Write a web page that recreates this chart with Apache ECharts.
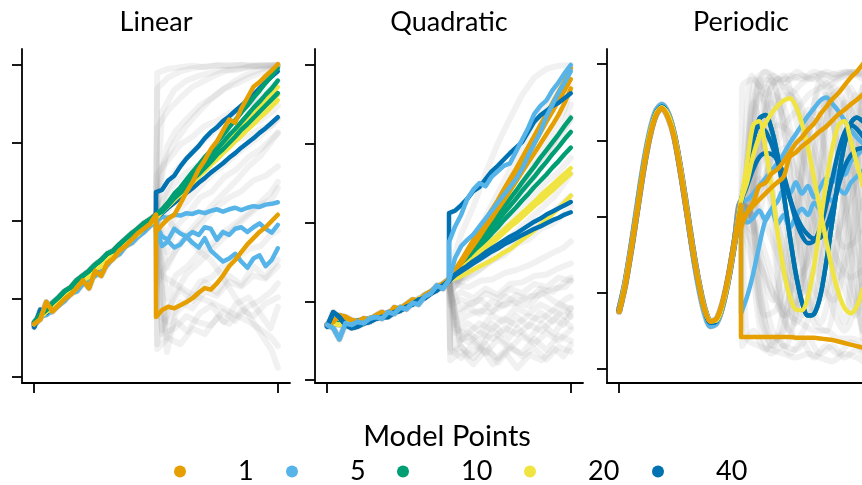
<!DOCTYPE html>
<html>
<head>
<meta charset="utf-8">
<script src="https://cdn.jsdelivr.net/npm/echarts@6/dist/echarts.min.js"></script>
<style>
  html, body { margin: 0; padding: 0; background: #ffffff; }
  #chart { width: 862px; height: 485px; }
</style>
</head>
<body>
<div id="chart"></div>
<script>
// ---- x grids -------------------------------------------------------------
const xPre   = [0, 2.5, 5, 7.5, 10, 12.5, 15, 17.5, 20, 22.5, 25, 27.5, 30, 32.5, 35, 37.5, 40, 42.5, 45, 47.5, 50];
const xPost  = [50, 52.5, 55, 57.5, 60, 62.5, 65, 67.5, 70, 72.5, 75, 77.5, 80, 82.5, 85, 87.5, 90, 92.5, 95, 97.5, 100];
const xGrayA = [50.5, 55, 60, 65, 70, 75, 80, 85, 90, 95, 100];
const xGrayB = [52.5, 57.5, 62.5, 67.5, 72.5, 77.5, 82.5, 87.5, 92.5, 97.5, 100];
const xGrayC = [54.5, 58, 63, 68, 73, 78, 83, 88, 93, 97, 100];

const modelPoints = ['1', '5', '10', '20', '40'];
const panelTitles = ['Linear', 'Quadratic', 'Periodic'];
const tickValuesY = [0, 1, 2, 3, 4];
const tickValuesX = [0, 100];

// ---- Linear ---------------------------------------------------------------
const linPre1  = [0.68, 0.74, 0.96, 0.84, 0.92, 1.00, 1.06, 1.14, 1.24, 1.14, 1.36, 1.30, 1.46, 1.52, 1.62, 1.68, 1.76, 1.84, 1.90, 1.96, 2.08];
const linPre5  = [0.66, 0.78, 0.80, 0.86, 0.92, 0.98, 1.08, 1.10, 1.20, 1.26, 1.30, 1.40, 1.44, 1.54, 1.58, 1.68, 1.72, 1.80, 1.86, 1.94, 2.00];
const linPre10 = [0.70, 0.80, 0.86, 0.95, 1.02, 1.10, 1.15, 1.24, 1.30, 1.36, 1.44, 1.50, 1.58, 1.62, 1.70, 1.77, 1.84, 1.90, 1.97, 2.02, 2.08];
const linPre20 = [0.68, 0.77, 0.84, 0.88, 0.97, 1.02, 1.11, 1.15, 1.24, 1.29, 1.38, 1.42, 1.51, 1.56, 1.65, 1.69, 1.78, 1.83, 1.92, 1.96, 2.04];
const linPre40 = [0.64, 0.86, 0.82, 0.90, 0.96, 1.04, 1.08, 1.17, 1.22, 1.31, 1.36, 1.44, 1.49, 1.58, 1.63, 1.70, 1.78, 1.85, 1.90, 1.98, 2.04];

const linPost1 = [
  [1.86, 1.95, 2.03, 2.08, 2.22, 2.37, 2.50, 2.66, 2.78, 2.92, 3.02, 3.16, 3.30, 3.26, 3.44, 3.58, 3.72, 3.78, 3.86, 3.93, 4.01],
  [0.77, 0.86, 0.90, 0.88, 0.92, 0.96, 1.01, 1.08, 1.14, 1.12, 1.20, 1.30, 1.42, 1.50, 1.60, 1.70, 1.78, 1.86, 1.92, 2.00, 2.08]
];
const linPost5 = [
  [2.00, 2.05, 2.04, 2.08, 2.07, 2.10, 2.09, 2.12, 2.10, 2.13, 2.15, 2.12, 2.15, 2.17, 2.14, 2.17, 2.19, 2.18, 2.21, 2.22, 2.24],
  [1.95, 1.80, 1.76, 1.90, 1.84, 1.80, 1.86, 1.82, 1.92, 1.90, 1.76, 1.86, 1.82, 1.90, 1.92, 1.86, 1.92, 1.97, 1.90, 1.85, 1.95],
  [1.90, 1.68, 1.74, 1.66, 1.70, 1.80, 1.72, 1.66, 1.78, 1.62, 1.55, 1.48, 1.52, 1.58, 1.48, 1.40, 1.52, 1.56, 1.42, 1.50, 1.65]
];
const linPost10 = [
  [2.08, 2.15, 2.24, 2.35, 2.43, 2.53, 2.63, 2.72, 2.82, 2.90, 3.01, 3.10, 3.20, 3.29, 3.39, 3.48, 3.58, 3.67, 3.77, 3.86, 3.96],
  [2.08, 2.13, 2.23, 2.31, 2.40, 2.48, 2.57, 2.66, 2.74, 2.83, 2.92, 3.01, 3.10, 3.18, 3.27, 3.36, 3.45, 3.53, 3.62, 3.70, 3.80],
  [2.08, 2.12, 2.20, 2.29, 2.36, 2.44, 2.53, 2.60, 2.68, 2.76, 2.85, 2.92, 3.00, 3.08, 3.17, 3.24, 3.32, 3.40, 3.48, 3.56, 3.64]
];
const linPost20 = [
  [2.04, 2.13, 2.22, 2.30, 2.38, 2.47, 2.55, 2.63, 2.72, 2.80, 2.88, 2.97, 3.05, 3.13, 3.22, 3.30, 3.38, 3.47, 3.55, 3.63, 3.72],
  [2.04, 2.12, 2.19, 2.27, 2.34, 2.42, 2.49, 2.57, 2.64, 2.72, 2.79, 2.87, 2.94, 3.02, 3.09, 3.17, 3.24, 3.32, 3.39, 3.47, 3.55],
  [2.04, 2.12, 2.20, 2.28, 2.36, 2.44, 2.52, 2.60, 2.68, 2.76, 2.84, 2.92, 2.99, 3.07, 3.15, 3.23, 3.31, 3.39, 3.47, 3.55, 3.62]
];
const linPost40 = [
  [2.37, 2.40, 2.52, 2.58, 2.70, 2.80, 2.88, 2.96, 3.06, 3.14, 3.20, 3.28, 3.34, 3.41, 3.48, 3.55, 3.62, 3.70, 3.78, 3.85, 3.92],
  [2.04, 2.10, 2.17, 2.23, 2.30, 2.36, 2.42, 2.49, 2.55, 2.62, 2.68, 2.74, 2.81, 2.87, 2.94, 3.00, 3.06, 3.13, 3.19, 3.26, 3.33]
];
const linGray = [
  [3.90, 3.95, 3.97, 3.99, 3.97, 4.00, 3.98, 4.00, 3.99, 4.00, 3.99],
  [3.40, 3.68, 3.80, 3.86, 3.90, 3.94, 3.93, 3.97, 3.98, 3.99, 4.00],
  [2.95, 3.15, 3.32, 3.48, 3.58, 3.70, 3.76, 3.84, 3.90, 3.94, 3.97],
  [2.60, 2.78, 2.98, 3.08, 3.22, 3.28, 3.38, 3.44, 3.52, 3.56, 3.62],
  [2.25, 2.48, 2.62, 2.72, 2.86, 2.92, 3.04, 3.08, 3.18, 3.22, 3.30],
  [1.60, 1.92, 2.08, 2.30, 2.38, 2.56, 2.66, 2.82, 2.92, 3.04, 3.12],
  [1.20, 1.48, 1.72, 1.86, 2.02, 2.18, 2.30, 2.38, 2.52, 2.58, 2.70],
  [0.60, 1.05, 1.32, 1.46, 1.62, 1.78, 1.92, 2.06, 2.20, 2.28, 2.42],
  [0.32, 0.82, 0.98, 1.22, 1.28, 1.44, 1.52, 1.64, 1.68, 1.82, 1.88],
  [0.42, 0.88, 1.12, 0.98, 1.22, 1.08, 1.30, 1.18, 1.42, 1.28, 1.50],
  [2.10, 1.92, 1.80, 1.62, 1.50, 1.28, 1.02, 0.82, 0.58, 0.34, 0.12],
  [0.50, 0.72, 0.58, 0.82, 0.92, 0.70, 0.94, 1.02, 0.80, 0.62, 0.90],
  [3.20, 3.42, 3.58, 3.72, 3.80, 3.88, 3.94, 3.96, 3.99, 3.98, 4.00],
  [2.00, 2.30, 2.48, 2.70, 2.78, 2.98, 3.08, 3.22, 3.28, 3.40, 3.48],
  [1.00, 1.30, 1.42, 1.60, 1.70, 1.86, 1.98, 2.10, 2.24, 2.36, 2.50],
  [0.80, 0.70, 0.96, 0.88, 1.10, 1.04, 1.22, 1.16, 1.30, 1.26, 1.42],
  [0.55, 0.62, 0.78, 0.70, 0.66, 0.84, 0.72, 0.90, 0.98, 1.10, 1.20],
  [1.40, 1.62, 1.84, 2.02, 2.20, 2.36, 2.52, 2.70, 2.84, 3.00, 3.14],
  [3.70, 3.84, 3.92, 3.96, 3.98, 3.99, 4.00, 4.00, 3.99, 4.00, 4.00],
  [2.70, 3.00, 3.22, 3.40, 3.56, 3.68, 3.80, 3.88, 3.94, 3.97, 4.00],
  [1.80, 2.10, 2.26, 2.44, 2.60, 2.72, 2.86, 2.98, 3.10, 3.22, 3.32],
  [0.36, 0.50, 0.42, 0.62, 0.55, 0.76, 0.68, 0.86, 0.78, 0.94, 1.02],
  [1.30, 1.20, 1.10, 1.02, 0.96, 0.88, 0.80, 0.72, 0.62, 0.50, 0.40],
  [2.40, 2.64, 2.82, 2.98, 3.12, 3.26, 3.38, 3.50, 3.60, 3.70, 3.80]
];

// ---- Quadratic ------------------------------------------------------------
const quadPre1  = [0.70, 0.74, 0.82, 0.80, 0.76, 0.74, 0.78, 0.76, 0.82, 0.86, 0.82, 0.92, 0.90, 0.96, 1.02, 1.00, 1.08, 1.12, 1.18, 1.22, 1.28];
const quadPre5  = [0.70, 0.66, 0.52, 0.72, 0.70, 0.74, 0.72, 0.78, 0.80, 0.78, 0.86, 0.84, 0.92, 0.90, 0.98, 0.96, 1.06, 1.10, 1.20, 1.16, 1.27];
const quadPre10 = [0.69, 0.71, 0.72, 0.72, 0.73, 0.75, 0.76, 0.78, 0.80, 0.82, 0.85, 0.88, 0.91, 0.94, 0.98, 1.02, 1.06, 1.11, 1.16, 1.21, 1.27];
const quadPre20 = [0.70, 0.72, 0.70, 0.72, 0.73, 0.74, 0.76, 0.78, 0.80, 0.83, 0.85, 0.88, 0.92, 0.95, 0.99, 1.03, 1.07, 1.12, 1.17, 1.22, 1.27];
const quadPre40 = [0.68, 0.86, 0.80, 0.70, 0.66, 0.68, 0.72, 0.74, 0.78, 0.80, 0.80, 0.86, 0.88, 0.93, 0.96, 1.02, 1.04, 1.10, 1.14, 1.20, 1.26];

const quadPost1 = [
  [1.28, 1.40, 1.52, 1.65, 1.78, 1.90, 2.02, 2.16, 2.28, 2.42, 2.55, 2.68, 2.82, 2.96, 3.10, 3.24, 3.38, 3.52, 3.66, 3.80, 3.96],
  [1.28, 1.39, 1.50, 1.62, 1.74, 1.86, 1.98, 2.10, 2.22, 2.35, 2.48, 2.60, 2.74, 2.87, 3.00, 3.14, 3.28, 3.41, 3.55, 3.68, 3.82],
  [1.28, 1.38, 1.48, 1.60, 1.71, 1.82, 1.94, 2.05, 2.17, 2.28, 2.40, 2.52, 2.64, 2.76, 2.88, 3.00, 3.12, 3.24, 3.37, 3.52, 3.70]
];
const quadPost5 = [
  [1.75, 1.95, 2.10, 2.30, 2.42, 2.50, 2.46, 2.58, 2.65, 2.72, 2.75, 2.90, 3.05, 3.20, 3.38, 3.48, 3.55, 3.68, 3.78, 3.90, 4.00],
  [1.27, 1.55, 1.70, 1.78, 1.85, 1.95, 2.05, 2.15, 2.25, 2.35, 2.45, 2.55, 2.68, 2.85, 3.00, 3.15, 3.35, 3.50, 3.65, 3.78, 3.92]
];
const quadPost10 = [
  [1.27, 1.37, 1.48, 1.58, 1.68, 1.79, 1.89, 1.99, 2.09, 2.20, 2.30, 2.40, 2.51, 2.61, 2.71, 2.82, 2.92, 3.02, 3.12, 3.23, 3.33],
  [1.27, 1.36, 1.46, 1.55, 1.65, 1.74, 1.83, 1.93, 2.02, 2.12, 2.21, 2.30, 2.40, 2.49, 2.58, 2.68, 2.77, 2.87, 2.96, 3.06, 3.15],
  [1.27, 1.35, 1.44, 1.52, 1.61, 1.69, 1.77, 1.86, 1.94, 2.03, 2.11, 2.19, 2.28, 2.36, 2.45, 2.53, 2.61, 2.70, 2.78, 2.87, 2.95]
];
const quadPost20 = [
  [1.27, 1.34, 1.41, 1.48, 1.55, 1.63, 1.70, 1.77, 1.84, 1.91, 1.98, 2.05, 2.12, 2.19, 2.26, 2.34, 2.41, 2.48, 2.55, 2.62, 2.69],
  [1.27, 1.33, 1.40, 1.46, 1.53, 1.60, 1.67, 1.73, 1.80, 1.87, 1.94, 2.00, 2.07, 2.14, 2.21, 2.27, 2.34, 2.41, 2.48, 2.55, 2.62],
  [1.27, 1.29, 1.32, 1.36, 1.40, 1.44, 1.48, 1.52, 1.57, 1.62, 1.66, 1.72, 1.78, 1.84, 1.90, 1.97, 2.04, 2.11, 2.18, 2.26, 2.34]
];
const quadPost40 = [
  [2.12, 2.15, 2.22, 2.30, 2.40, 2.45, 2.55, 2.65, 2.72, 2.80, 2.88, 2.95, 3.02, 3.15, 3.28, 3.36, 3.42, 3.48, 3.52, 3.58, 3.64],
  [1.26, 1.34, 1.40, 1.45, 1.51, 1.56, 1.62, 1.67, 1.72, 1.77, 1.82, 1.86, 1.91, 1.96, 2.01, 2.05, 2.10, 2.14, 2.18, 2.22, 2.26],
  [1.26, 1.33, 1.38, 1.43, 1.48, 1.53, 1.58, 1.63, 1.67, 1.72, 1.76, 1.80, 1.84, 1.88, 1.92, 1.95, 1.99, 2.03, 2.06, 2.10, 2.13]
];
const quadGray = [
  [1.40, 1.85, 2.20, 2.62, 3.00, 3.32, 3.62, 3.84, 3.95, 3.99, 4.00],
  [1.35, 1.62, 1.92, 2.22, 2.52, 2.82, 3.12, 3.40, 3.66, 3.86, 3.96],
  [1.30, 1.52, 1.70, 1.92, 2.12, 2.40, 2.62, 2.82, 3.02, 3.24, 3.50],
  [1.30, 1.44, 1.62, 1.74, 1.92, 2.04, 2.22, 2.34, 2.52, 2.64, 2.82],
  [1.25, 1.32, 1.40, 1.52, 1.58, 1.72, 1.78, 1.92, 1.98, 2.12, 2.20],
  [1.20, 1.18, 1.26, 1.28, 1.36, 1.40, 1.46, 1.54, 1.62, 1.68, 1.76],
  [1.00, 1.12, 1.04, 1.16, 1.08, 1.22, 1.24, 1.32, 1.34, 1.42, 1.48],
  [0.70, 0.82, 0.88, 0.86, 0.96, 0.98, 1.06, 1.08, 1.16, 1.18, 1.26],
  [0.50, 0.56, 0.42, 0.62, 0.48, 0.66, 0.52, 0.72, 0.58, 0.76, 0.68],
  [0.35, 0.42, 0.28, 0.46, 0.22, 0.40, 0.34, 0.52, 0.38, 0.56, 0.50],
  [0.60, 0.72, 0.62, 0.82, 0.74, 0.92, 0.84, 0.96, 0.88, 1.02, 1.06],
  [0.90, 0.96, 1.02, 0.88, 1.06, 0.98, 0.94, 1.12, 1.00, 0.94, 0.90],
  [1.10, 1.32, 1.52, 1.76, 2.00, 2.26, 2.44, 2.72, 2.90, 3.12, 3.30],
  [0.40, 0.62, 0.48, 0.72, 0.58, 0.82, 0.68, 0.86, 0.74, 0.92, 0.80],
  [0.45, 0.30, 0.42, 0.20, 0.35, 0.15, 0.32, 0.25, 0.40, 0.30, 0.45],
  [1.15, 1.24, 1.34, 1.46, 1.56, 1.68, 1.80, 1.94, 2.06, 2.20, 2.34],
  [0.80, 0.92, 0.84, 1.00, 0.94, 1.08, 1.02, 1.16, 1.12, 1.24, 1.30],
  [0.55, 0.48, 0.60, 0.52, 0.66, 0.58, 0.70, 0.62, 0.78, 0.70, 0.84],
  [0.25, 0.36, 0.20, 0.38, 0.28, 0.44, 0.30, 0.40, 0.26, 0.42, 0.36],
  [1.20, 1.40, 1.62, 1.86, 2.10, 2.36, 2.62, 2.88, 3.16, 3.44, 3.72],
  [1.28, 1.46, 1.66, 1.86, 2.06, 2.28, 2.48, 2.70, 2.92, 3.14, 3.34],
  [0.95, 1.02, 0.96, 1.10, 1.04, 1.16, 1.10, 1.22, 1.18, 1.30, 1.26],
  [0.65, 0.58, 0.72, 0.64, 0.78, 0.70, 0.82, 0.76, 0.88, 0.80, 0.92],
  [1.25, 1.36, 1.50, 1.62, 1.76, 1.90, 2.04, 2.18, 2.32, 2.48, 2.62],
  [0.40, 0.28, 0.46, 0.34, 0.52, 0.40, 0.56, 0.46, 0.60, 0.50, 0.64]
];

// ---- Periodic -------------------------------------------------------------
const perPre1  = [0.75, 1.10, 1.58, 2.10, 2.62, 3.04, 3.32, 3.42, 3.30, 3.05, 2.62, 2.12, 1.60, 1.14, 0.78, 0.62, 0.66, 0.88, 1.24, 1.70, 2.15];
const perPre5  = [0.78, 1.14, 1.62, 2.16, 2.68, 3.10, 3.38, 3.47, 3.36, 3.08, 2.64, 2.12, 1.58, 1.10, 0.74, 0.56, 0.60, 0.84, 1.22, 1.70, 2.18];
const perPre10 = [0.78, 1.12, 1.58, 2.10, 2.62, 3.05, 3.33, 3.44, 3.35, 3.08, 2.65, 2.15, 1.62, 1.16, 0.80, 0.62, 0.63, 0.84, 1.21, 1.69, 2.19];
const perPre20 = [0.76, 1.13, 1.60, 2.12, 2.64, 3.07, 3.34, 3.43, 3.34, 3.08, 2.66, 2.15, 1.62, 1.16, 0.80, 0.63, 0.64, 0.85, 1.21, 1.69, 2.20];
const perPre40 = [0.77, 1.12, 1.60, 2.12, 2.64, 3.06, 3.35, 3.44, 3.34, 3.07, 2.64, 2.14, 1.61, 1.15, 0.79, 0.61, 0.63, 0.85, 1.22, 1.70, 2.19];

const perPost1 = [
  [1.85, 2.06, 2.18, 2.40, 2.44, 2.56, 2.62, 2.72, 2.84, 2.96, 3.04, 3.14, 3.22, 3.34, 3.44, 3.54, 3.62, 3.72, 3.82, 3.90, 4.00],
  [1.95, 2.05, 2.14, 2.22, 2.30, 2.38, 2.45, 2.52, 2.78, 2.84, 2.92, 2.98, 3.05, 3.12, 3.18, 3.26, 3.34, 3.40, 3.47, 3.53, 3.60],
  [0.42, 0.42, 0.42, 0.42, 0.42, 0.42, 0.42, 0.42, 0.42, 0.41, 0.41, 0.41, 0.41, 0.40, 0.39, 0.38, 0.36, 0.34, 0.32, 0.30, 0.28]
];
const perPost5 = [
  [2.18, 2.22, 2.30, 2.40, 2.50, 2.60, 2.70, 2.82, 2.96, 3.08, 3.20, 3.32, 3.42, 3.52, 3.56, 3.48, 3.38, 3.26, 3.14, 3.04, 2.96],
  [2.18, 1.92, 1.98, 2.08, 1.95, 2.10, 2.20, 2.35, 2.30, 2.45, 2.30, 2.40, 2.25, 2.38, 2.50, 2.45, 2.60, 2.55, 2.72, 2.80, 2.88],
  [0.73, 0.95, 1.25, 1.62, 1.95, 2.08, 1.90, 2.02, 1.85, 2.00, 2.10, 2.02, 2.18, 2.10, 2.26, 2.20, 2.36, 2.30, 2.44, 2.52, 2.60]
];
const perPost10 = [
  [2.19, 2.55, 3.00, 3.28, 3.33, 3.15, 2.80, 2.30, 1.75, 1.25, 0.88, 0.70, 0.72, 0.95, 1.40, 1.95, 2.50, 2.95, 3.22, 3.30, 3.25]
];
const perPost20 = [
  [2.20, 2.70, 3.20, 3.25, 2.90, 2.40, 1.80, 1.30, 0.95, 0.78, 0.77, 0.95, 1.35, 1.90, 2.45, 2.90, 3.20, 3.25, 3.00, 2.70, 2.40],
  [2.20, 2.45, 2.80, 3.05, 3.22, 3.35, 3.45, 3.52, 3.55, 3.45, 3.22, 2.90, 2.50, 2.08, 1.68, 1.30, 1.00, 0.80, 0.73, 0.82, 1.05]
];
const perPost40 = [
  [2.19, 2.55, 3.00, 3.28, 3.33, 3.15, 2.80, 2.30, 1.75, 1.25, 0.88, 0.70, 0.72, 0.95, 1.40, 1.95, 2.50, 2.95, 3.22, 3.30, 3.25],
  [2.19, 2.62, 3.00, 3.18, 3.12, 2.95, 2.72, 2.48, 2.24, 2.02, 1.86, 1.76, 1.71, 1.72, 1.86, 2.10, 2.40, 2.65, 2.80, 2.88, 2.90],
  [2.19, 2.40, 2.62, 2.78, 2.83, 2.82, 2.74, 2.55, 2.25, 1.95, 1.75, 1.65, 1.68, 1.85, 2.15, 2.50, 2.85, 3.10, 3.20, 3.15, 3.05]
];
const perGray = [
  [2.00, 3.50, 3.90, 3.60, 2.60, 1.40, 0.60, 0.50, 1.30, 2.50, 3.50],
  [2.00, 3.00, 3.70, 3.85, 3.30, 2.40, 1.50, 0.80, 0.50, 0.90, 1.80],
  [2.00, 1.20, 0.50, 0.30, 0.80, 1.80, 2.90, 3.60, 3.70, 3.10, 2.10],
  [2.00, 2.60, 3.00, 3.20, 3.10, 2.80, 2.30, 1.80, 1.40, 1.20, 1.30],
  [2.00, 3.60, 3.30, 1.80, 0.60, 0.90, 2.40, 3.60, 3.40, 2.00, 0.80],
  [2.00, 1.00, 0.30, 0.60, 1.80, 3.00, 3.80, 3.60, 2.60, 1.30, 0.40],
  [3.70, 3.80, 3.60, 3.80, 3.80, 3.85, 3.80, 3.90, 3.85, 3.90, 3.85],
  [0.40, 0.30, 0.25, 0.20, 0.15, 0.20, 0.15, 0.10, 0.20, 0.15, 0.10],
  [2.00, 2.40, 2.80, 3.20, 3.40, 3.60, 3.70, 3.80, 3.85, 3.90, 3.90],
  [2.00, 1.60, 1.20, 0.90, 0.70, 0.60, 0.50, 0.50, 0.40, 0.40, 0.35],
  [2.00, 3.20, 3.80, 3.20, 2.00, 1.00, 0.60, 1.20, 2.40, 3.40, 3.70],
  [2.00, 1.40, 0.90, 1.50, 2.50, 3.30, 3.10, 2.20, 1.30, 0.80, 1.10],
  [2.00, 2.20, 1.90, 1.50, 1.10, 1.00, 1.30, 1.90, 2.50, 3.00, 3.20],
  [2.00, 3.80, 2.60, 0.70, 1.40, 3.40, 3.30, 1.20, 0.60, 2.50, 3.70],
  [3.85, 3.70, 3.85, 3.75, 3.90, 3.80, 3.88, 3.82, 3.90, 3.86, 3.90],
  [0.30, 0.50, 0.25, 0.40, 0.20, 0.35, 0.15, 0.30, 0.20, 0.35, 0.25],
  [2.00, 2.90, 3.50, 3.30, 2.40, 1.40, 0.90, 1.30, 2.30, 3.20, 3.60],
  [2.00, 1.50, 1.00, 0.70, 0.90, 1.60, 2.50, 3.20, 3.50, 3.20, 2.50],
  [2.00, 3.30, 3.70, 2.90, 1.60, 0.70, 0.80, 1.90, 3.10, 3.70, 3.20],
  [2.00, 2.50, 2.20, 1.60, 1.20, 1.40, 2.00, 2.60, 2.80, 2.40, 1.80],
  [2.00, 0.90, 0.40, 0.50, 1.30, 2.40, 3.30, 3.70, 3.40, 2.50, 1.40],
  [2.00, 3.40, 3.80, 3.75, 3.85, 3.80, 3.90, 3.85, 3.88, 3.90, 3.86],
  [2.00, 0.60, 0.20, 0.30, 0.25, 0.40, 0.20, 0.30, 0.15, 0.25, 0.20],
  [2.00, 2.80, 3.30, 3.60, 3.50, 3.00, 2.30, 1.60, 1.00, 0.70, 0.90],
  [2.00, 1.80, 2.40, 3.20, 3.60, 3.20, 2.40, 1.60, 1.20, 1.60, 2.40],
  [2.00, 3.10, 2.40, 1.30, 0.80, 1.50, 2.70, 3.50, 3.10, 1.90, 0.90],
  [2.00, 3.00, 3.60, 3.40, 2.70, 1.80, 1.10, 0.90, 1.50, 2.60, 3.40],
  [2.00, 1.30, 0.70, 0.80, 1.50, 2.60, 3.40, 3.50, 2.80, 1.80, 1.10],
  [2.00, 2.60, 3.40, 3.70, 3.60, 3.20, 2.60, 2.00, 1.60, 1.70, 2.20],
  [2.00, 1.70, 1.20, 0.60, 0.40, 0.70, 1.40, 2.30, 3.10, 3.60, 3.50],
  [2.00, 3.50, 2.80, 1.20, 0.50, 1.20, 2.80, 3.60, 2.80, 1.20, 0.50],
  [2.00, 2.30, 2.70, 2.90, 2.60, 2.20, 1.80, 1.70, 2.00, 2.50, 2.90],
  [2.00, 0.70, 0.30, 0.90, 2.00, 3.20, 3.70, 3.20, 2.10, 1.00, 0.50],
  [2.00, 3.70, 3.90, 3.80, 3.60, 3.75, 3.85, 3.70, 3.80, 3.88, 3.80]
];

// ---- styling --------------------------------------------------------------
const FONT = 'Lato';
const colors = { '1': '#E69F00', '5': '#56B4E9', '10': '#009E73', '20': '#F0E442', '40': '#0072B2' };
const GRAY = 'rgba(150,150,150,0.13)';
const grayGrids = [xGrayA, xGrayB, xGrayC];

const panels = [
  { pre: { '1': linPre1, '5': linPre5, '10': linPre10, '20': linPre20, '40': linPre40 },
    post: { '1': linPost1, '5': linPost5, '10': linPost10, '20': linPost20, '40': linPost40 },
    gray: linGray, order: ['5', '40', '20', '10', '1'], smooth: false,
    left: 22, yMin: -0.077, yMax: 4.205 },
  { pre: { '1': quadPre1, '5': quadPre5, '10': quadPre10, '20': quadPre20, '40': quadPre40 },
    post: { '1': quadPost1, '5': quadPost5, '10': quadPost10, '20': quadPost20, '40': quadPost40 },
    gray: quadGray, order: ['10', '20', '1', '40', '5'], smooth: false,
    left: 315, yMin: -0.038, yMax: 4.203 },
  { pre: { '1': perPre1, '5': perPre5, '10': perPre10, '20': perPre20, '40': perPre40 },
    post: { '1': perPost1, '5': perPost5, '10': perPost10, '20': perPost20, '40': perPost40 },
    gray: perGray, order: ['10', '5', '40', '20', '1'], smooth: 0.3,
    left: 607, yMin: -0.184, yMax: 4.197 }
];

function trace(pre, post, xs) {
  const pts = xPre.map((x, i) => [x, pre[i]]);
  xs.forEach((x, i) => pts.push([x, post[i]]));
  return pts;
}

const grids = [], xAxes = [], yAxes = [], series = [], titles = [];
const axisLine = { show: true, onZero: false, lineStyle: { color: '#000', width: 1.8 } };

panels.forEach((p, i) => {
  grids.push({ left: p.left, top: 49, width: 268, height: 334, containLabel: false, outerBoundsMode: 'none' });
  xAxes.push({
    type: 'value', gridIndex: i, min: -5, max: 105,
    axisLine: axisLine,
    axisTick: { show: true, length: 10, customValues: tickValuesX, lineStyle: { color: '#000', width: 1.8 } },
    axisLabel: { show: false }, splitLine: { show: false }
  });
  yAxes.push({
    type: 'value', gridIndex: i, min: p.yMin, max: p.yMax,
    axisLine: axisLine,
    axisTick: { show: true, length: 10, customValues: tickValuesY, lineStyle: { color: '#000', width: 1.8 } },
    axisLabel: { show: false }, splitLine: { show: false }
  });
  titles.push({
    text: panelTitles[i], left: p.left + 134, top: 9, textAlign: 'center', padding: 0,
    textStyle: { fontFamily: FONT, fontSize: 27, fontWeight: 'normal', color: '#000' }
  });

  // background sample paths
  p.gray.forEach((g, k) => {
    series.push({
      type: 'line', xAxisIndex: i, yAxisIndex: i, silent: true,
      data: trace(p.pre[modelPoints[k % 5]], g, grayGrids[k % 3]),
      showSymbol: false, symbol: 'none', smooth: p.smooth,
      lineStyle: { color: GRAY, width: 6, cap: 'round', join: 'round' },
      z: 1
    });
  });

  // model runs, one colour per number of model points
  p.order.forEach((m, k) => {
    p.post[m].forEach(run => {
      series.push({
        name: m, type: 'line', xAxisIndex: i, yAxisIndex: i, silent: true,
        data: trace(p.pre[m], run, xPost),
        showSymbol: false, symbol: 'none', smooth: p.smooth,
        color: colors[m], itemStyle: { color: colors[m] },
        lineStyle: { color: colors[m], width: 4.5, cap: 'round', join: 'round' },
        z: 2 + k
      });
    });
  });
});

titles.push({
  text: 'Model Points', left: 447, top: 422, textAlign: 'center', padding: 0,
  textStyle: { fontFamily: FONT, fontSize: 29, fontWeight: 'normal', color: '#000' }
});

const legendDots = [180, 292, 403, 530, 658];
const legends = modelPoints.map((m, k) => ({
  data: [{ name: m, itemStyle: { color: colors[m] } }],
  left: legendDots[k] - 6, top: 458, padding: 0,
  icon: 'circle', itemWidth: 12, itemHeight: 12,
  selectedMode: false,
  textStyle: { fontFamily: FONT, fontSize: 27, color: '#000', padding: [0, 0, 0, 47] }
}));

const chart = echarts.init(document.getElementById('chart'), null, { renderer: 'canvas' });
chart.setOption({
  animation: false,
  backgroundColor: '#ffffff',
  title: titles,
  legend: legends,
  grid: grids,
  xAxis: xAxes,
  yAxis: yAxes,
  series: series
});
</script>
</body>
</html>
